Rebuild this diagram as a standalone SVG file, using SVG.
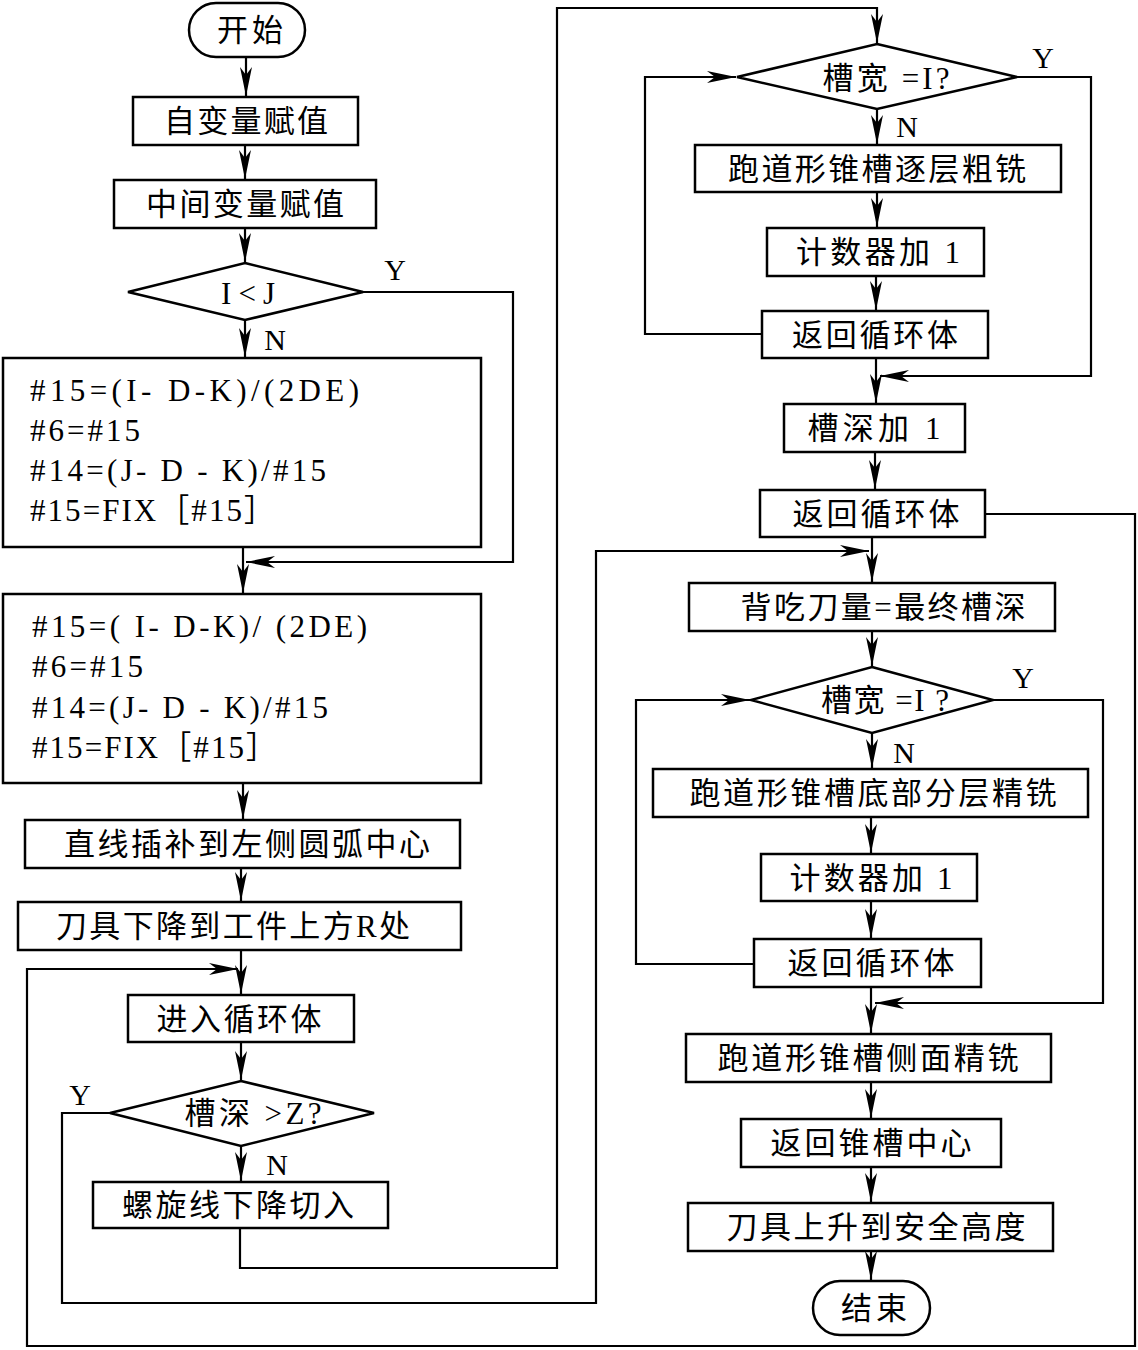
<svg xmlns="http://www.w3.org/2000/svg" width="1138" height="1350" viewBox="0 0 1138 1350">
<style>
.s{fill:#fff;stroke:#000;stroke-width:2.5}
.c{fill:none;stroke:#000;stroke-width:2.2}
.t{font-family:"Liberation Serif","Noto Sans CJK SC",serif;font-size:31px;fill:#000;text-anchor:middle}
.f{font-family:"Liberation Serif","Noto Sans CJK SC",serif;font-size:31px;fill:#000}
.l{font-family:"Liberation Serif",serif;font-size:30px;fill:#000;text-anchor:middle}
</style>
<defs>
<marker id="a" markerUnits="userSpaceOnUse" markerWidth="32" markerHeight="14" refX="0" refY="0" viewBox="-31 -7 32 14" orient="auto" overflow="visible">
<path d="M0,0 L-29,-6 L-21,0 L-29,6 Z" fill="#000"/>
</marker>
</defs>
<rect width="1138" height="1350" fill="#fff"/>

<g id="connectors">
<polyline class="c" points="246,57 246,96" marker-end="url(#a)"/>
<polyline class="c" points="245,145 245,179" marker-end="url(#a)"/>
<polyline class="c" points="245,228 245,262" marker-end="url(#a)"/>
<polyline class="c" points="245,320 245,357" marker-end="url(#a)"/>
<polyline class="c" points="363,292 513,292 513,562 246,562" marker-end="url(#a)"/>
<polyline class="c" points="243,547 243,593" marker-end="url(#a)"/>
<polyline class="c" points="243,783 243,819" marker-end="url(#a)"/>
<polyline class="c" points="241,868 241,901" marker-end="url(#a)"/>
<polyline class="c" points="241,950 241,994" marker-end="url(#a)"/>
<polyline class="c" points="241,1042 241,1080" marker-end="url(#a)"/>
<polyline class="c" points="241,1146 241,1181" marker-end="url(#a)"/>
<polyline class="c" points="240,1228 240,1268 557,1268 557,8 877,8 877,43" marker-end="url(#a)"/>
<polyline class="c" points="110,1113 62,1113 62,1303 596,1303 596,551 869,551" marker-end="url(#a)"/>
<polyline class="c" points="985,514 1135,514 1135,1346 27,1346 27,969 238,969" marker-end="url(#a)"/>
<polyline class="c" points="877,109 877,144" marker-end="url(#a)"/>
<polyline class="c" points="877,192 877,227" marker-end="url(#a)"/>
<polyline class="c" points="876,276 876,310" marker-end="url(#a)"/>
<polyline class="c" points="762,334 645,334 645,77 736,77" marker-end="url(#a)"/>
<polyline class="c" points="1017,77 1091,77 1091,376 880,376" marker-end="url(#a)"/>
<polyline class="c" points="876,358 876,403" marker-end="url(#a)"/>
<polyline class="c" points="875,452 875,489" marker-end="url(#a)"/>
<polyline class="c" points="872,537 872,582" marker-end="url(#a)"/>
<polyline class="c" points="872,631 872,666" marker-end="url(#a)"/>
<polyline class="c" points="872,733 872,768" marker-end="url(#a)"/>
<polyline class="c" points="871,817 871,853" marker-end="url(#a)"/>
<polyline class="c" points="871,901 871,938" marker-end="url(#a)"/>
<polyline class="c" points="754,964 636,964 636,700 750,700" marker-end="url(#a)"/>
<polyline class="c" points="993,700 1103,700 1103,1003 875,1003" marker-end="url(#a)"/>
<polyline class="c" points="871,987 871,1033" marker-end="url(#a)"/>
<polyline class="c" points="871,1082 871,1118" marker-end="url(#a)"/>
<polyline class="c" points="871,1167 871,1202" marker-end="url(#a)"/>
<polyline class="c" points="871,1251 871,1280" marker-end="url(#a)"/>
</g>

<g id="labels">
<text class="l" x="395" y="280">Y</text>
<text class="l" x="275" y="350">N</text>
<text class="l" x="1043" y="68">Y</text>
<text class="l" x="907" y="137">N</text>
<text class="l" x="1023" y="688">Y</text>
<text class="l" x="904" y="763">N</text>
<text class="l" x="80" y="1105">Y</text>
<text class="l" x="277" y="1175">N</text>
</g>

<g id="start"><rect class="s" x="189" y="3" width="116" height="54" rx="27"/><text class="t" x="250" y="41" textLength="66">开始</text></g>
<g id="n1"><rect class="s" x="133" y="97" width="225" height="48"/><text class="t" x="246" y="132" textLength="164">自变量赋值</text></g>
<g id="n2"><rect class="s" x="114" y="180" width="262" height="48"/><text class="t" x="245" y="215" textLength="198">中间变量赋值</text></g>
<g id="d1"><polygon class="s" points="245,263 363,292 245,320 128,292"/><text class="t" x="248" y="304" textLength="54">I&lt;J</text></g>
<g id="n3"><rect class="s" x="3" y="358" width="478" height="189"/>
<text class="f" x="30" y="401" textLength="329" lengthAdjust="spacing">#15=(I- D-K)/(2DE)</text>
<text class="f" x="30" y="441" textLength="110" lengthAdjust="spacing">#6=#15</text>
<text class="f" x="30" y="481" textLength="296" lengthAdjust="spacing">#14=(J- D - K)/#15</text>
<text class="f" x="30" y="521" textLength="245" lengthAdjust="spacing">#15=FIX［#15］</text>
</g>
<g id="n4"><rect class="s" x="3" y="594" width="478" height="189"/>
<text class="f" x="32" y="637" textLength="335" lengthAdjust="spacing">#15=( I- D-K)/ (2DE)</text>
<text class="f" x="32" y="677" textLength="111" lengthAdjust="spacing">#6=#15</text>
<text class="f" x="32" y="718" textLength="296" lengthAdjust="spacing">#14=(J- D - K)/#15</text>
<text class="f" x="32" y="758" textLength="245" lengthAdjust="spacing">#15=FIX［#15］</text>
</g>
<g id="n5"><rect class="s" x="25" y="820" width="435" height="48"/><text class="t" x="247" y="855" textLength="366">直线插补到左侧圆弧中心</text></g>
<g id="n6"><rect class="s" x="18" y="902" width="443" height="48"/><text class="t" x="233" y="937" textLength="354">刀具下降到工件上方R处</text></g>
<g id="n7"><rect class="s" x="128" y="995" width="226" height="47"/><text class="t" x="239" y="1030" textLength="165">进入循环体</text></g>
<g id="d2"><polygon class="s" points="241,1081 374,1113 241,1146 110,1113"/><text class="t" x="253" y="1124" textLength="137">槽深 &gt;Z?</text></g>
<g id="n8"><rect class="s" x="93" y="1182" width="295" height="46"/><text class="t" x="238" y="1216" textLength="232">螺旋线下降切入</text></g>

<g id="d3"><polygon class="s" points="877,44 1017,77 877,109 737,77"/><text class="t" x="886" y="89" textLength="127">槽宽 =I?</text></g>
<g id="n9"><rect class="s" x="695" y="145" width="366" height="47"/><text class="t" x="877" y="180" textLength="298">跑道形锥槽逐层粗铣</text></g>
<g id="n10"><rect class="s" x="767" y="228" width="217" height="48"/><text class="t" x="878" y="263" textLength="164">计数器加 1</text></g>
<g id="n11"><rect class="s" x="762" y="311" width="226" height="47"/><text class="t" x="875" y="346" textLength="166">返回循环体</text></g>
<g id="n12"><rect class="s" x="784" y="404" width="181" height="48"/><text class="t" x="874" y="439" textLength="133">槽深加 1</text></g>
<g id="n13"><rect class="s" x="760" y="490" width="225" height="47"/><text class="t" x="876" y="525" textLength="167">返回循环体</text></g>
<g id="n14"><rect class="s" x="689" y="583" width="366" height="48"/><text class="t" x="883" y="618" textLength="285">背吃刀量=最终槽深</text></g>
<g id="d4"><polygon class="s" points="872,667 993,700 872,733 751,700"/><text class="t" x="885" y="711" textLength="128">槽宽 =I ?</text></g>
<g id="n15"><rect class="s" x="653" y="769" width="435" height="48"/><text class="t" x="873" y="804" textLength="367">跑道形锥槽底部分层精铣</text></g>
<g id="n16"><rect class="s" x="761" y="854" width="216" height="47"/><text class="t" x="871" y="889" textLength="163">计数器加 1</text></g>
<g id="n17"><rect class="s" x="754" y="939" width="227" height="48"/><text class="t" x="871" y="974" textLength="167">返回循环体</text></g>
<g id="n18"><rect class="s" x="686" y="1034" width="365" height="48"/><text class="t" x="868" y="1069" textLength="301">跑道形锥槽侧面精铣</text></g>
<g id="n19"><rect class="s" x="741" y="1119" width="260" height="48"/><text class="t" x="871" y="1154" textLength="201">返回锥槽中心</text></g>
<g id="n20"><rect class="s" x="688" y="1203" width="365" height="48"/><text class="t" x="876" y="1238" textLength="299">刀具上升到安全高度</text></g>
<g id="end"><rect class="s" x="813" y="1281" width="117" height="54" rx="27"/><text class="t" x="874" y="1319" textLength="66">结束</text></g>
</svg>
